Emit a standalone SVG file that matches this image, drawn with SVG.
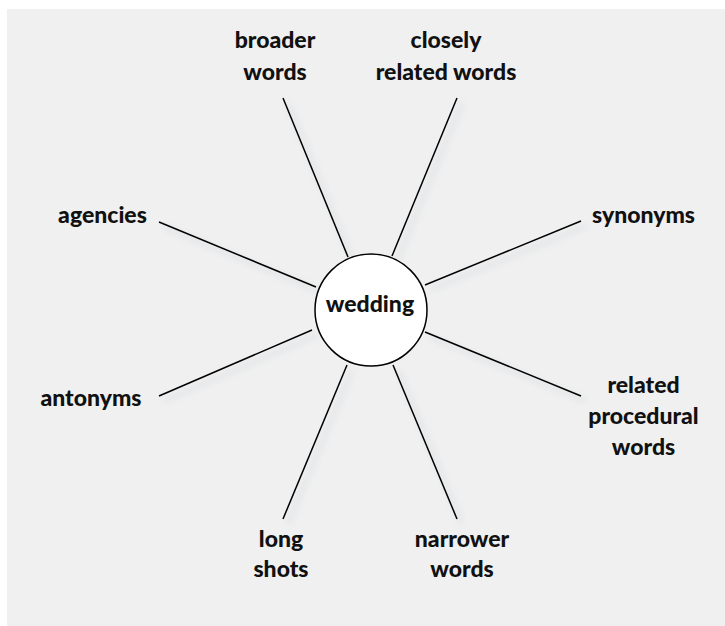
<svg xmlns="http://www.w3.org/2000/svg" width="725" height="626" viewBox="0 0 725 626">
  <defs>
    <style>
      .lbl { font-family: Lato, "Liberation Sans", sans-serif; font-weight: 900; font-size: 23px; fill: #111; text-anchor: middle; }
      .conn { stroke: #000; stroke-width: 1.5; fill: none; }
      .shadow { stroke: #e3e5e8; stroke-width: 5; fill: none; }
    </style>
    <filter id="blur" x="-20%" y="-20%" width="140%" height="140%">
      <feGaussianBlur stdDeviation="3"/>
    </filter>
  </defs>
  <rect x="7" y="9" width="718" height="617" fill="#f0f0f0"/>
  <g id="connector-shadows" filter="url(#blur)" transform="translate(5,5)">
    <line class="shadow" x1="283" y1="98" x2="348" y2="257"/>
    <line class="shadow" x1="457" y1="98" x2="392" y2="256"/>
    <line class="shadow" x1="581" y1="221" x2="425" y2="285"/>
    <line class="shadow" x1="581" y1="396" x2="425" y2="332"/>
    <line class="shadow" x1="457" y1="519" x2="393" y2="365"/>
    <line class="shadow" x1="283" y1="519" x2="347" y2="365"/>
    <line class="shadow" x1="159" y1="396" x2="312" y2="330"/>
    <line class="shadow" x1="159" y1="222" x2="316" y2="287"/>
  </g>
  <g id="connectors">
    <line class="conn" x1="283" y1="98" x2="348" y2="257"/>
    <line class="conn" x1="457" y1="98" x2="392" y2="256"/>
    <line class="conn" x1="581" y1="221" x2="425" y2="285"/>
    <line class="conn" x1="581" y1="396" x2="425" y2="332"/>
    <line class="conn" x1="457" y1="519" x2="393" y2="365"/>
    <line class="conn" x1="283" y1="519" x2="347" y2="365"/>
    <line class="conn" x1="159" y1="396" x2="312" y2="330"/>
    <line class="conn" x1="159" y1="222" x2="316" y2="287"/>
  </g>
  <g id="wedding">
    <circle cx="371" cy="310" r="56" fill="#fff" stroke="#000" stroke-width="1.5"/>
    <text class="lbl" x="370" y="312">wedding</text>
  </g>
  <g id="broader-words">
    <text class="lbl" x="275" y="48">broader</text>
    <text class="lbl" x="275" y="80">words</text>
  </g>
  <g id="closely-related-words">
    <text class="lbl" x="446" y="48">closely</text>
    <text class="lbl" x="446" y="80">related words</text>
  </g>
  <g id="agencies">
    <text class="lbl" x="102.5" y="223">agencies</text>
  </g>
  <g id="synonyms">
    <text class="lbl" x="643.5" y="223">synonyms</text>
  </g>
  <g id="antonyms">
    <text class="lbl" x="91" y="406">antonyms</text>
  </g>
  <g id="related-procedural-words">
    <text class="lbl" x="643.5" y="393">related</text>
    <text class="lbl" x="643.5" y="424">procedural</text>
    <text class="lbl" x="643.5" y="455">words</text>
  </g>
  <g id="long-shots">
    <text class="lbl" x="281" y="547">long</text>
    <text class="lbl" x="281" y="577">shots</text>
  </g>
  <g id="narrower-words">
    <text class="lbl" x="462" y="547">narrower</text>
    <text class="lbl" x="462" y="577">words</text>
  </g>
</svg>
